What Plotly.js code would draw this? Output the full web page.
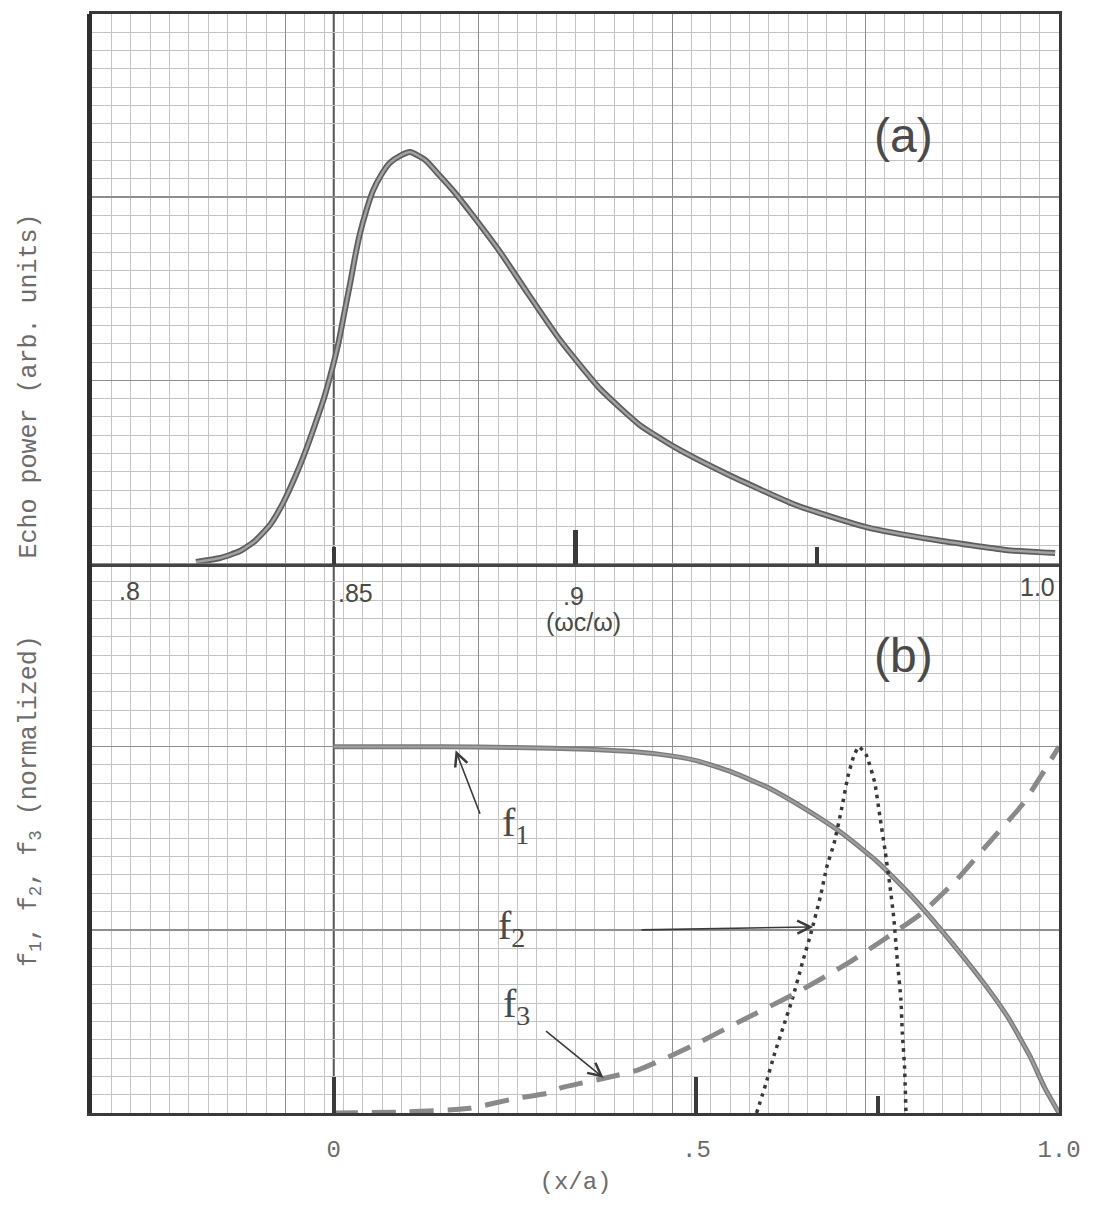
<!DOCTYPE html>
<html>
<head>
<meta charset="utf-8">
<script src="https://cdn.plot.ly/plotly-3.0.1.min.js"></script>
<style>
  html, body { margin: 0; padding: 0; background: #ffffff; }
  #chart { width: 1098px; height: 1205px; }
</style>
</head>
<body>
<div id="chart"></div>
<script>
// ---- (a) echo power against the frequency ratio wc/w ----
const omegaRatio = [0.8215, 0.8265, 0.8306, 0.8337, 0.8368, 0.8395, 0.8420, 0.8441, 0.8461,
                    0.8480, 0.8496, 0.8511, 0.8523, 0.8534, 0.8544, 0.8554, 0.8567, 0.8581,
                    0.8598, 0.8616, 0.8637, 0.8658, 0.8689, 0.8718, 0.8751, 0.8790, 0.8844,
                    0.8898, 0.8968, 0.9051, 0.9133, 0.9208, 0.9309, 0.9456, 0.9601, 0.9746,
                    0.9890, 0.9992];
const echoPower  = [0.008, 0.030, 0.068, 0.123, 0.210, 0.330, 0.472, 0.609, 0.756,
                    0.904, 1.056, 1.220, 1.384, 1.531, 1.673, 1.799, 1.924, 2.034,
                    2.121, 2.187, 2.225, 2.246, 2.203, 2.121, 2.023, 1.892, 1.701,
                    1.488, 1.220, 0.953, 0.756, 0.631, 0.494, 0.319, 0.199, 0.128,
                    0.074, 0.057];

// ---- (b) normalized profiles f1, f2, f3 against x/a ----
const f1X = [0, 0.10, 0.20, 0.30, 0.35, 0.40, 0.45, 0.50, 0.55, 0.60, 0.65, 0.70, 0.75,
             0.80, 0.85, 0.90, 0.93, 0.96, 0.98, 1.0];
const f1Y = [1.0, 1.0, 0.999, 0.996, 0.993, 0.988, 0.979, 0.962, 0.930, 0.887, 0.830, 0.765,
             0.685, 0.585, 0.470, 0.345, 0.260, 0.155, 0.070, 0.0];

const f2X = [0.583, 0.596, 0.608, 0.620, 0.632, 0.646, 0.658, 0.671, 0.680, 0.690, 0.700,
             0.709, 0.717, 0.724, 0.734, 0.746, 0.753, 0.760, 0.767, 0.772, 0.777, 0.782,
             0.784, 0.787, 0.789];
const f2Y = [0.0, 0.081, 0.163, 0.236, 0.309, 0.409, 0.491, 0.591, 0.673, 0.737, 0.828,
             0.919, 0.974, 1.0, 0.978, 0.901, 0.810, 0.719, 0.618, 0.536, 0.418, 0.309,
             0.218, 0.127, 0.0];

const f3X = [0, 0.10, 0.188, 0.251, 0.295, 0.312, 0.373, 0.419, 0.492, 0.564, 0.637, 0.709,
             0.758, 0.811, 0.859, 0.903, 0.951, 1.0];
const f3Y = [0.0, 0.003, 0.013, 0.040, 0.054, 0.068, 0.095, 0.117, 0.181, 0.254, 0.327, 0.409,
             0.473, 0.546, 0.637, 0.737, 0.846, 1.0];

// ---- ticks and labels ----
const omegaMajorTicks = [0.8, 0.9, 1.0];
const omegaMinorTicks = [0.85, 0.95];
const omegaLabelVals  = [0.8, 0.85, 0.9, 1.0];
const omegaLabelText  = ['.8', '.85', '.9', '1.0'];
const omegaAxisName   = '(ωc/ω)';

const posMajorTicks = [0, 0.5, 1.0];
const posTickText   = ['0', '.5', '1.0'];
const posMinorTicks = [0.75];
const posAxisName   = '(x/a)';

const echoTitle = 'Echo power (arb. units)';
const fTitle    = 'f<sub>1</sub>, f<sub>2</sub>, f<sub>3</sub> (normalized)';

// curve labels with the point each arrow points at
const curveNames  = ['f<sub>1</sub>', 'f<sub>2</sub>', 'f<sub>3</sub>'];
const arrowTipX   = [0.168, 0.661, 0.372];
const arrowTipY   = [0.99, 0.508, 0.096];
const nameX       = [0.250, 0.245, 0.252];
const nameY       = [0.786, 0.505, 0.292];

// graph paper ruling: 50 x 60 small squares, heavy line every 10
const paperCols = 50, paperRows = 60, paperMajor = 10;

// ---- styling ----
const typewriter = 'Liberation Mono, DejaVu Sans Mono, monospace';
const handFont   = 'Liberation Sans, DejaVu Sans, sans-serif';
const scriptFont = 'Liberation Serif, DejaVu Serif, serif';
const typeInk = '#6c6c6c';
const penInk  = '#4a4a4a';
const frameInk = '#3a3a3a';

const traces = [
  // empty trace that carries the graph-paper subplot
  { x: [], y: [], xaxis: 'x', yaxis: 'y', type: 'scatter', mode: 'lines',
    hoverinfo: 'skip', showlegend: false },

  // (a) echo power: dark edge with lighter pencil core
  { x: omegaRatio, y: echoPower, xaxis: 'x2', yaxis: 'y2', type: 'scatter', mode: 'lines',
    line: { color: '#5e5e5e', width: 6, shape: 'spline', smoothing: 0.5 },
    hoverinfo: 'skip', showlegend: false },
  { x: omegaRatio, y: echoPower, xaxis: 'x2', yaxis: 'y2', type: 'scatter', mode: 'lines',
    line: { color: '#a2a2a2', width: 2.5, shape: 'spline', smoothing: 0.5 },
    name: 'Echo power', showlegend: false },

  // (b) f1 solid
  { x: f1X, y: f1Y, xaxis: 'x3', yaxis: 'y3', type: 'scatter', mode: 'lines',
    line: { color: '#7c7c7c', width: 5, shape: 'spline', smoothing: 0.5 },
    hoverinfo: 'skip', showlegend: false },
  { x: f1X, y: f1Y, xaxis: 'x3', yaxis: 'y3', type: 'scatter', mode: 'lines',
    line: { color: '#a0a0a0', width: 2, shape: 'spline', smoothing: 0.5 },
    name: 'f1', showlegend: false },

  // (b) f2 dotted
  { x: f2X, y: f2Y, xaxis: 'x3', yaxis: 'y3', type: 'scatter', mode: 'lines',
    line: { color: '#383838', width: 3.5, dash: '3.5px,5px', shape: 'spline', smoothing: 0.5 },
    name: 'f2', showlegend: false },

  // (b) f3 dashed
  { x: f3X, y: f3Y, xaxis: 'x3', yaxis: 'y3', type: 'scatter', mode: 'lines',
    line: { color: '#8a8a8a', width: 5, dash: '24px,14px', shape: 'spline', smoothing: 0.5 },
    name: 'f3', showlegend: false }
];

const annotations = [];

// axis names written up the left side
annotations.push({ xref: 'paper', yref: 'paper', x: 0, y: 0.661, xshift: -62,
  text: echoTitle, textangle: -90, showarrow: false, xanchor: 'center', yanchor: 'middle',
  font: { family: typewriter, size: 25, color: typeInk } });
annotations.push({ xref: 'paper', yref: 'paper', x: 0, y: 0.284, xshift: -61,
  text: fTitle, textangle: -90, showarrow: false, xanchor: 'center', yanchor: 'middle',
  font: { family: typewriter, size: 25, color: typeInk } });

// hand-lettered values along the wc/w axis
const omegaLabelAnchor = ['left', 'left', 'center', 'right'];
const omegaLabelShiftX = [25, 2, -2, -2];
const omegaLabelShiftY = [-27, -29, -32, -23];
omegaLabelVals.forEach((v, i) => {
  annotations.push({ xref: 'x2', yref: 'y2', x: v, y: 0, text: omegaLabelText[i],
    showarrow: false, xanchor: omegaLabelAnchor[i], yanchor: 'middle',
    xshift: omegaLabelShiftX[i], yshift: omegaLabelShiftY[i],
    font: { family: handFont, size: 25, color: penInk } });
});
annotations.push({ xref: 'x2', yref: 'y2', x: 0.9, y: 0, text: omegaAxisName,
  showarrow: false, xanchor: 'center', yanchor: 'middle', xshift: 8, yshift: -58,
  font: { family: handFont, size: 25, color: penInk } });

// panel letters
annotations.push({ xref: 'paper', yref: 'paper', x: 0.872, y: 0.915, text: '(a)',
  showarrow: false, font: { family: handFont, size: 48, color: penInk } });
annotations.push({ xref: 'paper', yref: 'paper', x: 0.872, y: 0.416, text: '(b)',
  showarrow: false, font: { family: handFont, size: 48, color: penInk } });

// curve names and their pointers
const arrowDX = [25, -173, -59];
const arrowDY = [65, 3, -48];
curveNames.forEach((name, i) => {
  annotations.push({ xref: 'x3', yref: 'y3', x: nameX[i], y: nameY[i], text: name,
    showarrow: false, font: { family: scriptFont, size: 40, color: penInk } });
  annotations.push({ xref: 'x3', yref: 'y3', x: arrowTipX[i], y: arrowTipY[i], text: '',
    showarrow: true, ax: arrowDX[i], ay: arrowDY[i], axref: 'pixel', ayref: 'pixel',
    arrowhead: 5, arrowsize: 1.6, arrowwidth: 1.6, arrowcolor: '#3a3a3a' });
});

const layout = {
  width: 1098, height: 1205,
  margin: { l: 92, r: 39, t: 14, b: 92, pad: 0 },
  paper_bgcolor: '#ffffff',
  plot_bgcolor: 'rgba(0,0,0,0)',
  showlegend: false,
  hovermode: false,

  // graph paper
  xaxis: { domain: [0, 1], range: [0, paperCols], autorange: false, fixedrange: true,
    showgrid: true, gridcolor: '#8f8f8f', gridwidth: 1.4, tick0: 0, dtick: paperMajor,
    minor: { dtick: 1, showgrid: true, gridcolor: '#c3c3c3', gridwidth: 1 },
    showticklabels: false, ticks: '', zeroline: false,
    showline: true, mirror: true, linecolor: frameInk, linewidth: 3 },
  yaxis: { domain: [0, 1], range: [0, paperRows], autorange: false, fixedrange: true,
    showgrid: true, gridcolor: '#8f8f8f', gridwidth: 1.4, tick0: 0, dtick: paperMajor,
    minor: { dtick: 1, showgrid: true, gridcolor: '#c3c3c3', gridwidth: 1 },
    showticklabels: false, ticks: '', zeroline: false,
    showline: true, mirror: true, linecolor: frameInk, linewidth: 3 },

  // panel (a)
  xaxis2: { domain: [0, 1], anchor: 'y2', range: [0.8, 1.0], autorange: false, fixedrange: true,
    showgrid: false, zeroline: false, showline: true, linecolor: '#444444', linewidth: 3,
    tickmode: 'array', tickvals: omegaMajorTicks, ticks: 'inside', ticklen: 34, tickwidth: 5,
    tickcolor: frameInk, showticklabels: false,
    minor: { tickmode: 'array', tickvals: omegaMinorTicks, ticks: 'inside', ticklen: 17,
             tickwidth: 4, tickcolor: frameInk, showgrid: false } },
  yaxis2: { domain: [0.5, 1], anchor: 'x2', range: [0, 3], autorange: false, fixedrange: true,
    showgrid: false, zeroline: false, showline: true, linecolor: '#2f2f2f', linewidth: 5,
    ticks: '', showticklabels: false },

  // panel (b)
  xaxis3: { domain: [0, 1], anchor: 'y3', range: [-1 / 3, 1], autorange: false, fixedrange: true,
    showgrid: false, zeroline: false, showline: true, linecolor: frameInk, linewidth: 3,
    tickmode: 'array', tickvals: posMajorTicks, ticktext: posTickText,
    ticks: 'inside', ticklen: 36, tickwidth: 4, tickcolor: frameInk,
    showticklabels: true, ticklabelstandoff: 12,
    tickfont: { family: typewriter, size: 24, color: typeInk },
    minor: { tickmode: 'array', tickvals: posMinorTicks, ticks: 'inside', ticklen: 17,
             tickwidth: 4, tickcolor: frameInk, showgrid: false },
    title: { text: posAxisName, standoff: 10,
             font: { family: typewriter, size: 24, color: typeInk } } },
  yaxis3: { domain: [0, 0.5], anchor: 'x3', range: [0, 1.5], autorange: false, fixedrange: true,
    showgrid: false, zeroline: false, showline: true, linecolor: '#2f2f2f', linewidth: 5,
    ticks: '', showticklabels: false },

  // hand-ruled origin line x/a = 0 (which also marks wc/w = .85)
  shapes: [
    { type: 'line', xref: 'x3', yref: 'paper', x0: 0, x1: 0, y0: 0, y1: 1,
      line: { color: '#555555', width: 2 }, layer: 'between' }
  ],
  annotations: annotations
};

Plotly.newPlot('chart', traces, layout, { staticPlot: true, displayModeBar: false });
</script>
</body>
</html>
